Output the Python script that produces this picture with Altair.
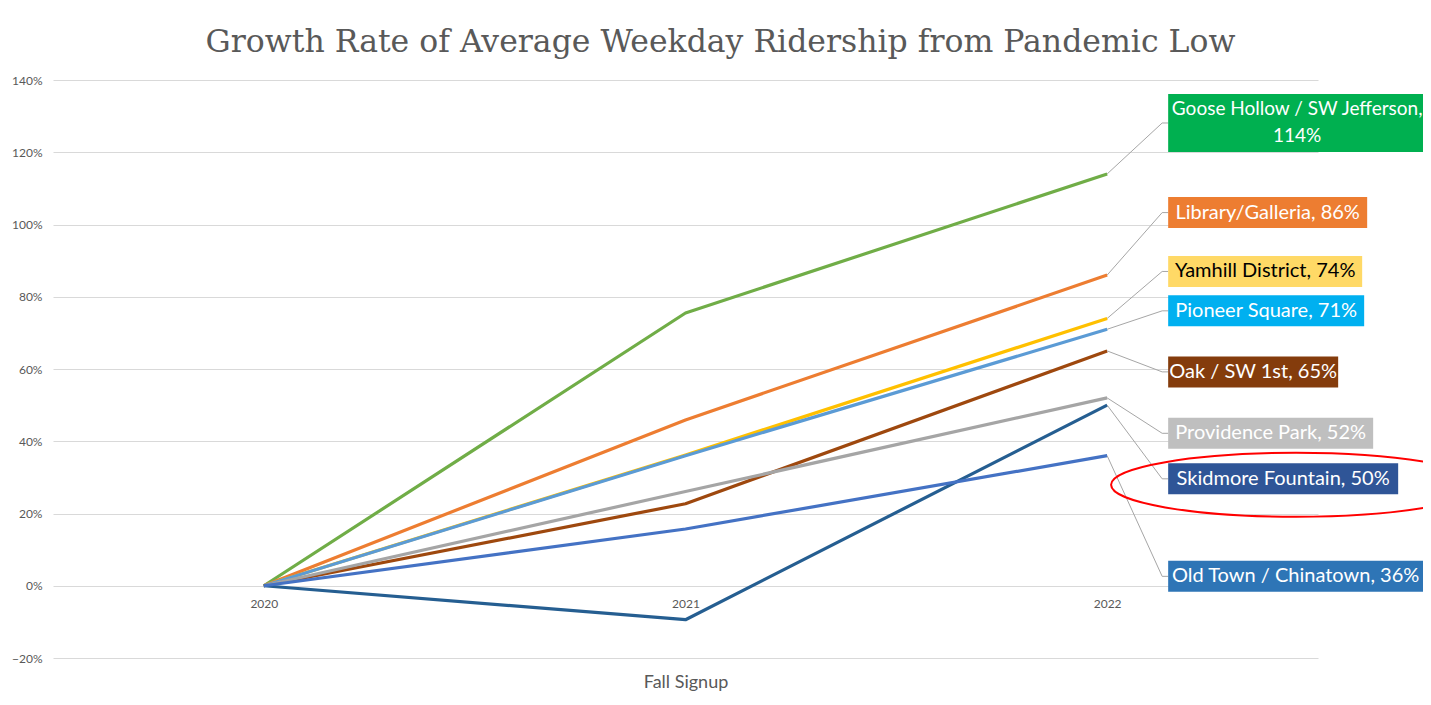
import altair as alt
import pandas as pd

# ---------------- data ----------------
years = [2020, 2021, 2022]
stations = [
    "Goose Hollow / SW Jefferson",
    "Library/Galleria",
    "Yamhill District",
    "Pioneer Square",
    "Oak / SW 1st",
    "Providence Park",
    "Skidmore Fountain",
    "Old Town / Chinatown",
]
goose_hollow = [0.0, 0.755, 1.14]
library_galleria = [0.0, 0.459, 0.86]
yamhill_district = [0.0, 0.362, 0.74]
pioneer_square = [0.0, 0.360, 0.71]
oak_sw_1st = [0.0, 0.227, 0.65]
providence_park = [0.0, 0.261, 0.52]
skidmore_fountain = [0.0, -0.094, 0.50]
old_town = [0.0, 0.157, 0.36]
series_values = [goose_hollow, library_galleria, yamhill_district, pioneer_square,
                 oak_sw_1st, providence_park, skidmore_fountain, old_town]

# ---------------- styles ----------------
line_colors = ["#70AD47", "#ED7D31", "#FFC000", "#5B9BD5", "#9E480E", "#A5A5A5", "#255E91", "#4472C4"]
box_colors = ["#00B050", "#ED7D31", "#FFD966", "#00B0F0", "#843C0C", "#BFBFBF", "#2F5597", "#2E75B6"]
text_colors = ["#FFFFFF", "#FFFFFF", "#000000", "#FFFFFF", "#FFFFFF", "#FFFFFF", "#FFFFFF", "#FFFFFF"]
label_font_sizes = [19, 20, 20, 20, 20, 20, 20, 20]

# ---------------- layout (label placement) ----------------
W, H = 1265, 578
X_MIN, X_MAX = 2019.5, 2022.5
Y_MIN, Y_MAX = -0.2, 1.4
px_per_year = W / (X_MAX - X_MIN)
px_per_unit = H / (Y_MAX - Y_MIN)
label_y = [1.281, 1.033, 0.870, 0.761, 0.592, 0.422, 0.296, 0.026]
box_width_px = [258, 199, 194, 196, 170, 205, 230, 255]
box_height_px = [58, 31, 31, 31, 31, 31, 31, 31]
LINE_H = 27
elbow_x = 2022 + 55 / px_per_year
box_left = 2022 + 61 / px_per_year
ellipse_x, ellipse_y = 2022.448, 0.2795

# ---------------- tables ----------------
rows = []
for s, vals in zip(stations, series_values):
    for yr, v in zip(years, vals):
        rows.append({"station": s, "year": yr, "value": v})
df = pd.DataFrame(rows)

leader_rows, box_rows = [], []
for i, s in enumerate(stations):
    last = series_values[i][-1]
    ly = label_y[i]
    leader_rows += [
        {"station": s, "k": 0, "x": years[-1], "y": last},
        {"station": s, "k": 1, "x": elbow_x, "y": ly},
        {"station": s, "k": 2, "x": box_left, "y": ly},
    ]
    x2 = box_left + box_width_px[i] / px_per_year
    x2_draw = box_left + (box_width_px[i] + (20 if i == 0 else 0)) / px_per_year
    hh = box_height_px[i] / 2 / px_per_unit
    pct = f"{round(last * 100):d}%"
    txt = f"{s},\n{pct}" if i == 0 else f"{s}, {pct}"
    n_lines = txt.count("\n") + 1
    ty = ly + (n_lines - 1) * LINE_H / 2 / px_per_unit
    box_rows.append({"station": s, "x": box_left, "x2": x2_draw, "y": ly - hh, "y2": ly + hh,
                     "xc": (box_left + x2) / 2, "yc": ty, "label": txt,
                     "fill": box_colors[i], "tcolor": text_colors[i],
                     "fs": label_font_sizes[i]})
leader_df = pd.DataFrame(leader_rows)
box_df = pd.DataFrame(box_rows)
ellipse_df = pd.DataFrame([{"x": ellipse_x, "y": ellipse_y}])

xscale = alt.Scale(domain=[X_MIN, X_MAX], nice=False, zero=False)
yscale = alt.Scale(domain=[Y_MIN, Y_MAX], nice=False, zero=False)

x_axis = alt.Axis(values=years, format="d", grid=False, domain=False, ticks=False,
                  offset=-72, labelPadding=12, labelFont="Lato", labelFontSize=12,
                  labelColor="#595959", title="Fall Signup", titleFont="Lato",
                  titleFontSize=18, titleFontWeight="normal", titleColor="#595959",
                  titlePadding=64)
y_axis = alt.Axis(values=[-0.2, 0, 0.2, 0.4, 0.6, 0.8, 1.0, 1.2, 1.4], format=".0%",
                  domain=False, ticks=False, labelPadding=11, labelFont="Lato",
                  labelFontSize=12, labelColor="#595959", gridColor="#D9D9D9",
                  gridWidth=1, title=None)

lines = alt.Chart(df).mark_line(strokeWidth=3.2, strokeJoin="round").encode(
    x=alt.X("year:Q", scale=xscale, axis=x_axis),
    y=alt.Y("value:Q", scale=yscale, axis=y_axis),
    color=alt.Color("station:N", scale=alt.Scale(domain=stations, range=line_colors), legend=None),
    order=alt.Order("year:Q"),
)

leaders = alt.Chart(leader_df).mark_line(strokeWidth=1, color="#A6A6A6").encode(
    x=alt.X("x:Q", scale=xscale),
    y=alt.Y("y:Q", scale=yscale),
    detail="station:N",
    order=alt.Order("k:Q"),
)

boxes = alt.Chart(box_df).mark_rect().encode(
    x=alt.X("x:Q", scale=xscale),
    x2="x2:Q",
    y=alt.Y("y:Q", scale=yscale),
    y2="y2:Q",
    color=alt.Color("fill:N", scale=None),
)

texts = alt.Chart(box_df).mark_text(font="Lato", lineBreak="\n",
                                     lineHeight=LINE_H, baseline="middle", align="center").encode(
    x=alt.X("xc:Q", scale=xscale),
    y=alt.Y("yc:Q", scale=yscale),
    text="label:N",
    color=alt.Color("tcolor:N", scale=None),
    size=alt.Size("fs:Q", scale=None),
)

ellipse = alt.Chart(ellipse_df).mark_point(
    shape="M -1 0 A 1 0.173 0 1 1 1 0 A 1 0.173 0 1 1 -1 0 Z",
    size=370 * 370, filled=False, stroke="#FF0000", strokeWidth=2, opacity=1,
).encode(
    x=alt.X("x:Q", scale=xscale),
    y=alt.Y("y:Q", scale=yscale),
)

chart = alt.layer(lines, leaders, boxes, texts, ellipse).properties(
    width=W, height=H,
    title=alt.TitleParams("Growth Rate of Average Weekday Ridership from Pandemic Low",
                          font="DejaVu Serif", fontSize=31.5, fontWeight="normal",
                          color="#595959", anchor="middle", frame="group", dx=35, offset=16),
    autosize=alt.AutoSizeParams(type="none"),
    padding={"left": 45, "top": 72, "right": 105, "bottom": 36},
).configure(background="#FFFFFF").configure_view(strokeWidth=0, stroke="transparent")

chart.save("out.html", embed_options={"renderer": "svg", "actions": False})
